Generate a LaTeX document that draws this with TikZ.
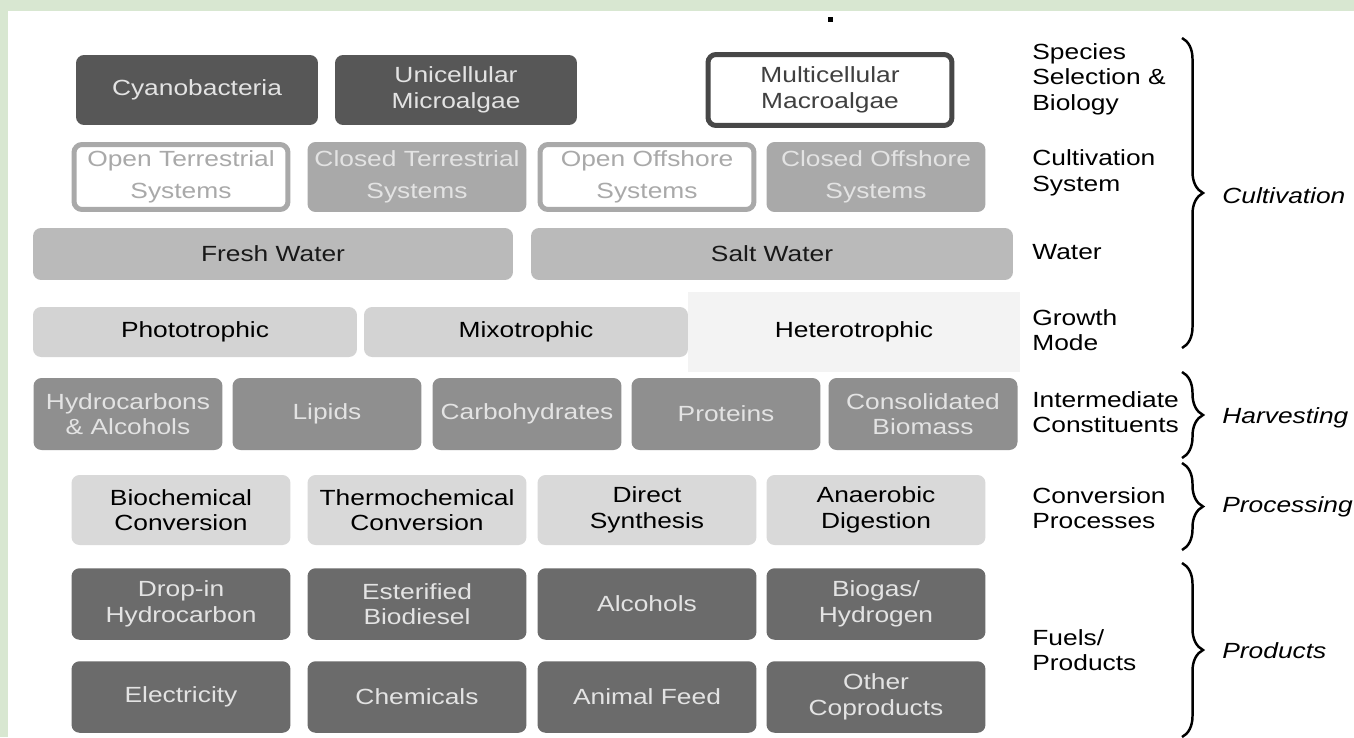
\documentclass[tikz,border=0pt]{standalone}
\usepackage{fontspec}
\setmainfont{Liberation Sans}[FakeStretch=1.2]
\usetikzlibrary{decorations.pathreplacing}

\definecolor{frame}{HTML}{D8E7D1}
\definecolor{gdark}{HTML}{575757}
\definecolor{gprod}{HTML}{6B6B6B}
\definecolor{gmid}{HTML}{8F8F8F}
\definecolor{gsys}{HTML}{A9A9A9}
\definecolor{gwater}{HTML}{BABABA}
\definecolor{ggrow}{HTML}{D3D3D3}
\definecolor{gconv}{HTML}{D9D9D9}
\definecolor{ghet}{HTML}{F3F3F3}
\definecolor{tlight}{HTML}{E3E3E3}

\begin{document}
\begin{tikzpicture}[x=0.02cm, y=-0.02cm,
  box/.style={rounded corners=0.16cm, inner sep=0pt, align=center,
    font=\fontsize{12.5}{14.5}\selectfont},
  darkbox/.style={box, fill=gdark, text=tlight, minimum width=4.84cm, minimum height=1.4cm},
  openbox/.style={box, draw=gsys, line width=0.1cm, fill=white, text=gsys,
    minimum width=4.28cm, minimum height=1.3cm, font=\fontsize{12.5}{18.2}\selectfont},
  closedbox/.style={box, fill=gsys, text=tlight, minimum width=4.38cm, minimum height=1.4cm,
    font=\fontsize{12.5}{18.2}\selectfont},
  waterbox/.style={box, fill=gwater, text=black!90, minimum height=1.04cm},
  growbox/.style={box, fill=ggrow, text=black, minimum width=6.48cm, minimum height=1.0cm},
  midbox/.style={box, fill=gmid, text=tlight, minimum width=3.78cm, minimum height=1.44cm},
  convbox/.style={box, fill=gconv, text=black, minimum width=4.38cm, minimum height=1.4cm},
  prodbox/.style={box, fill=gprod, text=tlight, minimum width=4.38cm, minimum height=1.43cm},
  rowlab/.style={anchor=west, align=left, inner sep=0pt, font=\fontsize{12.5}{14.5}\selectfont},
  catlab/.style={anchor=west, inner sep=0pt, font=\fontsize{12.5}{14.5}\selectfont\itshape},
  brc/.style={decorate, decoration={brace, amplitude=0.42cm}, line width=1.4pt}]
  \useasboundingbox (0,0) rectangle (1354,737);
  \fill[frame] (0,0) rectangle (1354,737);
  \fill[white] (8,11) rectangle (1354,737);
  \fill (828,17) rectangle (833,22);
  % species
  \node[darkbox] (cyano) at (197,90) {Cyanobacteria};
  \node[darkbox] (uni) at (456,90) {Unicellular\\Microalgae};
  \node[box, draw=black!72, line width=0.1cm, fill=white, text=black!75,
    minimum width=4.88cm, minimum height=1.42cm] (multi) at (830,90) {Multicellular\\Macroalgae};
  % cultivation systems
  \node[openbox] (ots) at (181,177) {Open Terrestrial\\Systems};
  \node[closedbox] (cts) at (417,177) {Closed Terrestrial\\Systems};
  \node[openbox] (oos) at (647,177) {Open Offshore\\Systems};
  \node[closedbox] (cos) at (876,177) {Closed Offshore\\Systems};
  % water
  \node[waterbox, minimum width=9.6cm] (fresh) at (273,254) {Fresh Water};
  \node[waterbox, minimum width=9.64cm] (salt) at (772,254) {Salt Water};
  % growth mode
  \node[fill=ghet, minimum width=6.64cm, minimum height=1.6cm, inner sep=0pt,
    font=\fontsize{12.5}{14.5}\selectfont] (hetero) at (854,332) {Heterotrophic};
  \node[growbox] (photo) at (195,332) {Phototrophic};
  \node[growbox] (mixo) at (526,332) {Mixotrophic};
  % constituents
  \foreach \i/\xx/\txt in {1/128/{Hydrocarbons\\\& Alcohols}, 2/327/Lipids,
      3/527/Carbohydrates, 4/726/Proteins, 5/923/{Consolidated\\Biomass}} {
    \node[midbox] (ic\i) at (\xx,414) {\txt};
  }
  % conversion
  \foreach \i/\xx/\txt in {1/181/{Biochemical\\Conversion}, 2/417/{Thermochemical\\Conversion},
      3/647/{Direct\\Synthesis}, 4/876/{Anaerobic\\Digestion}} {
    \node[convbox] (cp\i) at (\xx,510) {\txt};
  }
  % products
  \foreach \i/\xx/\txt in {1/181/{Drop-in\\Hydrocarbon}, 2/417/{Esterified\\Biodiesel},
      3/647/Alcohols, 4/876/{Biogas/\\Hydrogen}} {
    \node[prodbox] (fa\i) at (\xx,604) {\txt};
  }
  \foreach \i/\xx/\txt in {1/181/Electricity, 2/417/Chemicals,
      3/647/Animal Feed, 4/876/{Other\\Coproducts}} {
    \node[prodbox] (fb\i) at (\xx,697) {\txt};
  }
  % row labels
  \node[rowlab] (lspec) at (1032,79) {Species\\Selection \&\\Biology};
  \node[rowlab] (lsys) at (1032,173) {Cultivation\\System};
  \node[rowlab] (lwat) at (1032,252) {Water};
  \node[rowlab] (lgrow) at (1032,330) {Growth\\Mode};
  \node[rowlab] (lint) at (1032,412) {Intermediate\\Constituents};
  \node[rowlab] (lconv) at (1032,508) {Conversion\\Processes};
  \node[rowlab] (lfuel) at (1032,650) {Fuels/\\Products};
  % braces
  \coordinate (cultT) at (1182,38);  \coordinate (cultB) at (1182,348);
  \coordinate (harvT) at (1182,372); \coordinate (harvB) at (1182,458);
  \coordinate (procT) at (1182,463); \coordinate (procB) at (1182,550);
  \coordinate (prodT) at (1182,563); \coordinate (prodB) at (1182,737);
  \draw[brc] (cultT) -- (cultB);
  \draw[brc] (harvT) -- (harvB);
  \draw[brc] (procT) -- (procB);
  \draw[brc] (prodT) -- (prodB);
  \node[catlab] (cult) at (1222,196) {Cultivation};
  \node[catlab] (harv) at (1222,418) {Harvesting};
  \node[catlab] (proc) at (1222,507) {Processing};
  \node[catlab] (prods) at (1222,651) {Products};
\end{tikzpicture}
\end{document}
